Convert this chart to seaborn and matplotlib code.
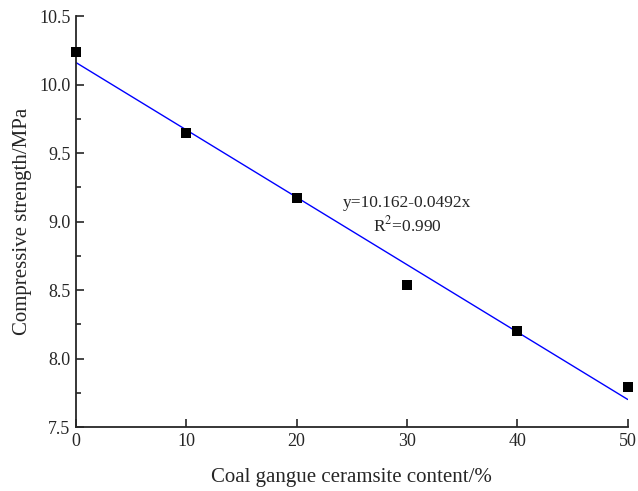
import numpy as np
import pandas as pd
import seaborn as sns
import matplotlib.pyplot as plt
from matplotlib.ticker import MultipleLocator

sns.set_style('ticks')
plt.rcParams['font.family'] = ['Liberation Serif', 'DejaVu Serif']
plt.rcParams['mathtext.fontset'] = 'stix'

# measured points
content = [0, 10, 20, 30, 40, 50]
strength = [10.24, 9.65, 9.17, 8.54, 8.20, 7.79]

# linear fit shown on the chart
intercept = 10.162
slope = -0.0492
fit_x = [0, 50]

df = pd.DataFrame({'content': content, 'strength': strength})
fit = pd.DataFrame({'content': fit_x,
                    'strength': [intercept + slope * x for x in fit_x]})

fig = plt.figure(figsize=(6.38, 4.91), dpi=100)
ax = fig.add_axes([0.119, 0.130, 0.865, 0.837])

sns.lineplot(data=fit, x='content', y='strength', color='#0000ff',
             linewidth=1.0, ax=ax)
sns.scatterplot(data=df, x='content', y='strength', marker='s', s=42,
                color='black', edgecolor='black', linewidth=0, ax=ax,
                zorder=3, clip_on=False)

ax.set_xlim(0, 50)
ax.set_ylim(7.5, 10.5)
ax.xaxis.set_major_locator(MultipleLocator(10))
ax.yaxis.set_major_locator(MultipleLocator(0.5))
ax.yaxis.set_minor_locator(MultipleLocator(0.25))
ax.yaxis.set_major_formatter(plt.FuncFormatter(lambda v, p: f'{v:.1f}'))

ax.tick_params(which='major', direction='in', length=6, width=1.2,
               labelsize=13, pad=4)
ax.tick_params(which='minor', direction='in', length=3.5, width=1.2)
for s in ['left', 'bottom']:
    ax.spines[s].set_linewidth(1.3)
sns.despine(ax=ax)

ax.set_xlabel('Coal gangue ceramsite content/%', fontsize=15, labelpad=13)
ax.set_ylabel('Compressive strength/MPa', fontsize=15, labelpad=5)

ax.text(30, 9.14, 'y=10.162-0.0492x', ha='center', va='center', fontsize=12.5)
ax.text(30, 8.97, r'R$^2$=0.990', ha='center', va='center', fontsize=12.5)

fig.savefig('out.png', dpi=100)
